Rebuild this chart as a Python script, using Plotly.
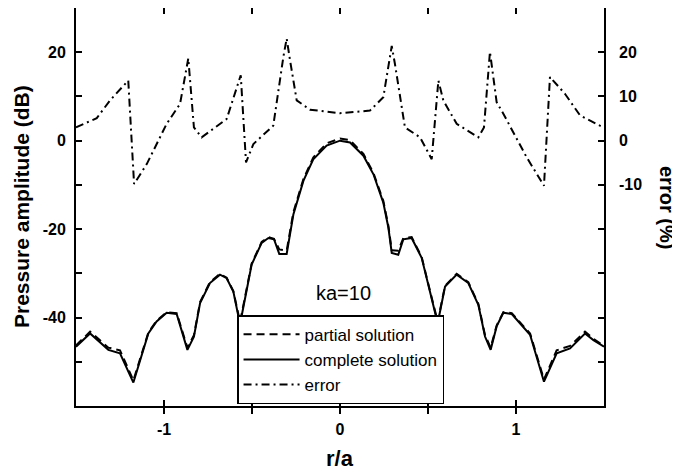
import plotly.graph_objects as go

# r/a positions and values for the pressure curves (dB)
x_sol = [-1.5, -1.42, -1.316, -1.25, -1.174, -1.089, -1.042, -0.985, -0.928, -0.867, -0.83, -0.795,
         -0.739, -0.682, -0.644, -0.606, -0.568, -0.502, -0.445, -0.407, -0.375, -0.345, -0.303,
         -0.294, -0.265, -0.208, -0.152, -0.076, 0.0, 0.057, 0.133, 0.19, 0.246, 0.275, 0.294,
         0.331, 0.36, 0.407, 0.464, 0.511, 0.555, 0.597, 0.663, 0.729, 0.786, 0.824, 0.856, 0.89,
         0.928, 0.976, 1.08, 1.159, 1.231, 1.307, 1.392, 1.44, 1.5]
complete_db = [-46.6, -43.6, -47.3, -48.1, -54.7, -43.6, -40.9, -38.9, -39.2, -47.3, -44.3, -36.7,
               -32.2, -30.3, -31.1, -34.1, -41.5, -28.0, -23.1, -22.0, -22.3, -25.6, -25.6,
               -23.5, -16.7, -9.1, -4.2, -1.1, 0.0, -0.4, -3.4, -7.6, -14.0, -19.7, -25.4,
               -25.8, -22.3, -22.0, -26.5, -34.1, -41.3, -33.0, -30.3, -32.2, -37.1, -44.3, -47.3, -42.0,
               -38.9, -39.2, -43.9, -54.5, -48.1, -47.0, -43.6, -45.1, -46.6]
partial_db = [-46.3, -43.2, -46.8, -47.4, -54.2, -43.4, -40.7, -38.8, -39.0, -46.8, -44.0, -36.5,
              -32.0, -30.1, -31.0, -34.0, -41.0, -27.8, -22.9, -21.8, -22.2, -24.6, -24.9,
              -23.0, -16.2, -8.7, -3.8, -0.6, 0.5, 0.1, -3.0, -7.3, -13.6, -19.3, -24.8,
              -24.9, -22.0, -21.8, -26.3, -33.9, -40.9, -32.8, -30.1, -32.0, -36.9, -44.0, -46.8, -41.8,
              -38.8, -39.0, -43.6, -54.0, -47.4, -46.4, -43.2, -44.8, -46.4]

# error curve (%)
x_err = [-1.5, -1.382, -1.307, -1.203, -1.17, -1.098, -0.985, -0.909, -0.862, -0.83, -0.786, -0.644,
         -0.564, -0.534, -0.492, -0.379, -0.322, -0.303, -0.284, -0.246, -0.17, 0.0, 0.17, 0.246,
         0.294, 0.312, 0.369, 0.455, 0.521, 0.559, 0.587, 0.663, 0.786, 0.818, 0.852, 0.89, 0.928,
         1.061, 1.159, 1.193, 1.278, 1.364, 1.477, 1.5]
error_pct = [3.0, 5.1, 9.1, 13.6, -9.8, -5.3, 3.8, 8.3, 18.6, 3.0, 0.75, 4.9,
             14.8, -4.9, -0.75, 3.4, 18.9, 23.1, 18.2, 9.1, 7.0, 6.2, 6.8, 9.8,
             21.4, 17.4, 3.0, 0.75, -4.2, 13.6, 9.1, 3.8, 0.75, 3.0, 20.1, 8.7, 6.1,
             -3.8, -10.2, 14.4, 10.6, 5.7, 3.4, 3.0]

x_ticks = [-1.5, -1, -0.5, 0, 0.5, 1, 1.5]
x_ticktext = ["", "-1", "", "0", "", "1", ""]
y_ticks = [-60, -50, -40, -30, -20, -10, 0, 10, 20, 30]
y_ticktext = ["", "", "-40", "", "-20", "", "0", "", "20", ""]
y2_ticktext = ["", "", "", "", "", "-10", "0", "10", "20", ""]

FONT = "Liberation Sans, Arial, sans-serif"

fig = go.Figure()
fig.add_trace(go.Scatter(x=x_sol, y=partial_db, mode="lines", name="partial solution",
                         line=dict(color="black", width=2, dash="8px,5px")))
fig.add_trace(go.Scatter(x=x_sol, y=complete_db, mode="lines", name="complete solution",
                         line=dict(color="black", width=2)))
fig.add_trace(go.Scatter(x=x_err, y=error_pct, mode="lines", name="error", yaxis="y2",
                         line=dict(color="black", width=2, dash="8px,4px,2px,4px")))

axis_common = dict(ticks="inside", ticklen=6, tickwidth=1.5, tickcolor="black",
                   showgrid=False, zeroline=False, automargin=False,
                   tickfont=dict(size=16, family=FONT, weight="bold", color="black"))

# the page body adds an 8px offset, so margins are shifted to compensate
fig.update_layout(
    template="none",
    width=680, height=472,
    margin=dict(l=68, r=84, t=0, b=74, pad=0),
    paper_bgcolor="white", plot_bgcolor="white",
    font=dict(family=FONT, color="black"),
    showlegend=True,
    legend=dict(x=0.305, y=0.228, xanchor="left", yanchor="top",
                bgcolor="white", bordercolor="black", borderwidth=1.5,
                font=dict(size=17, family=FONT, color="black"), tracegroupgap=0,
                itemwidth=56),
    xaxis=dict(range=[-1.5, 1.5], tickvals=x_ticks, ticktext=x_ticktext,
               showline=True, linecolor="black", linewidth=2, mirror="allticks",
               ticklabelstandoff=8, **axis_common),
    yaxis=dict(range=[-60, 30], tickvals=y_ticks, ticktext=y_ticktext,
               showline=True, linecolor="black", linewidth=2, mirror="allticks",
               ticklabelstandoff=5, **axis_common),
    yaxis2=dict(range=[-60, 30], tickvals=y_ticks, ticktext=y2_ticktext,
                overlaying="y", side="right", showline=False,
                ticklabelstandoff=14, **axis_common),
    annotations=[
        dict(text="Pressure amplitude (dB)", xref="paper", yref="paper", x=0, y=0.5,
             xanchor="center", yanchor="middle", xshift=-55, textangle=-90, showarrow=False,
             font=dict(size=21, family=FONT, weight="bold")),
        dict(text="r/a", xref="paper", yref="paper", x=0.5, y=0,
             xanchor="center", yanchor="middle", yshift=-52, showarrow=False,
             font=dict(size=22, family=FONT, weight="bold")),
        dict(text="error (%)", xref="paper", yref="paper", x=1, y=0.5,
             xanchor="center", yanchor="middle", xshift=63, textangle=90, showarrow=False,
             font=dict(size=20, family=FONT, weight="bold")),
        dict(text="ka=10", xref="x", yref="y", x=0.02, y=-34.5,
             xanchor="center", yanchor="middle", showarrow=False,
             font=dict(size=20, family=FONT)),
    ],
)

fig.write_html("out.html")
